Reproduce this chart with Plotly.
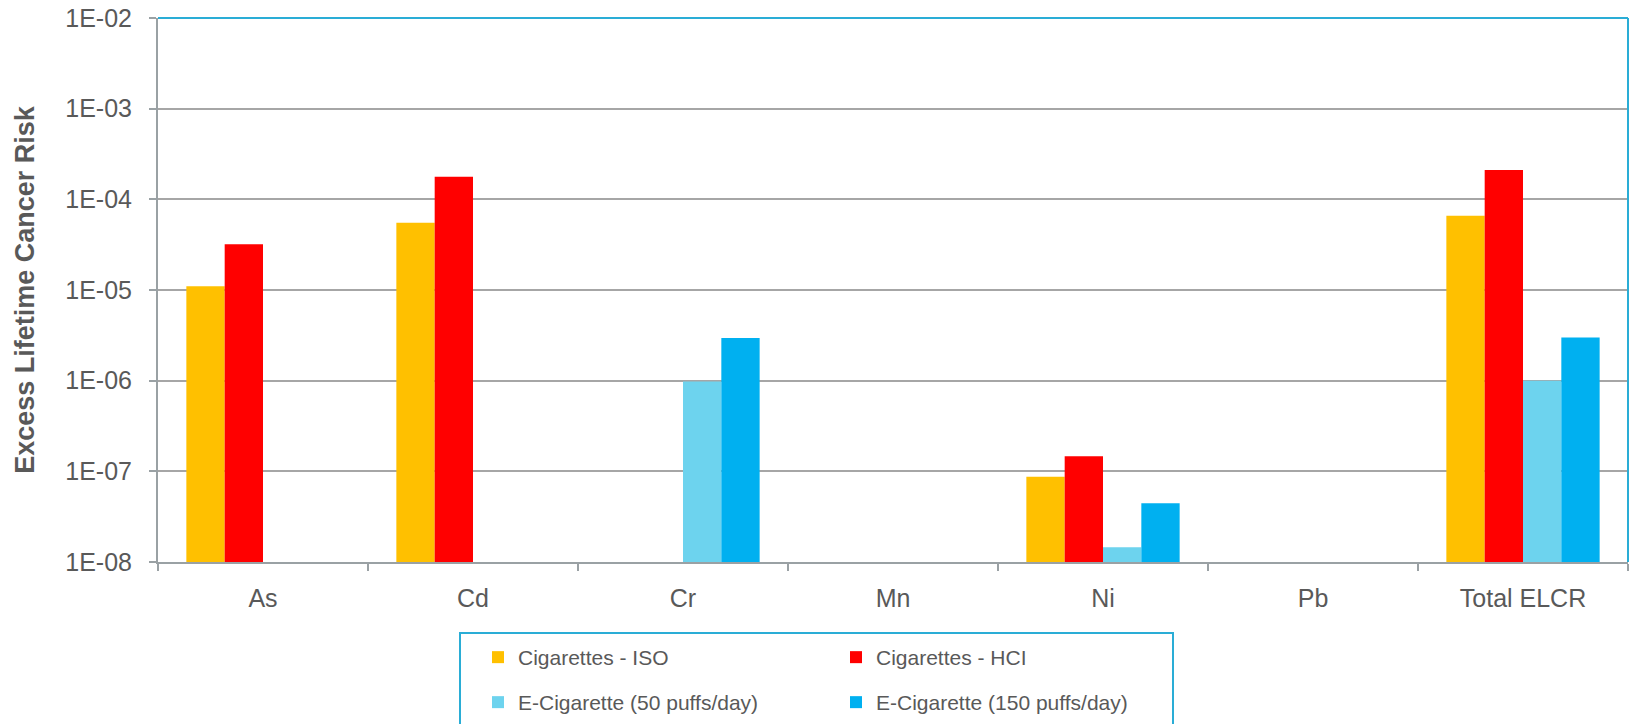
import plotly.graph_objects as go

# Metals and combined total
categories = ["As", "Cd", "Cr", "Mn", "Ni", "Pb", "Total ELCR"]

# Excess lifetime cancer risk per product (None = no bar drawn)
cig_iso = [1.1e-5, 5.5e-5, None, None, 8.7e-8, None, 6.6e-5]
cig_hci = [3.2e-5, 1.77e-4, None, None, 1.47e-7, None, 2.1e-4]
ecig_50 = [None, None, 9.8e-7, None, 1.45e-8, None, 1.0e-6]
ecig_150 = [None, None, 2.95e-6, None, 4.45e-8, None, 3.0e-6]

series_names = ["Cigarettes - ISO", "Cigarettes - HCI",
                "E-Cigarette (50 puffs/day)", "E-Cigarette (150 puffs/day)"]

# Decade ticks on the log axis
tick_values = [1e-8, 1e-7, 1e-6, 1e-5, 1e-4, 1e-3, 1e-2]
tick_labels = ["1E-08", "1E-07", "1E-06", "1E-05", "1E-04", "1E-03", "1E-02"]

FONT = "Arial, Liberation Sans, sans-serif"
TEXT = "#595959"
AXIS = "#9AA1A4"
GRID = "#A6A6A6"
FRAME = "#2AADD6"

colors = ["#FFC000", "#FF0000", "#6DD3EE", "#00B0F0"]
values = [cig_iso, cig_hci, ecig_50, ecig_150]
legend_ids = ["legend", "legend", "legend2", "legend2"]

fig = go.Figure()
for name, vals, col, lg in zip(series_names, values, colors, legend_ids):
    fig.add_trace(go.Bar(
        x=categories, y=vals, name=name,
        marker=dict(color=col, line=dict(width=0)),
        legend=lg,
    ))

legend_common = dict(
    orientation="h",
    xref="container", yref="container",
    xanchor="left", yanchor="top",
    entrywidthmode="pixels", entrywidth=313,
    font=dict(family=FONT, size=21, color=TEXT),
    bgcolor="rgba(0,0,0,0)", borderwidth=0,
    itemclick=False, itemdoubleclick=False,
    traceorder="normal",
)

fig.update_layout(
    width=1631, height=724,
    margin=dict(l=158, r=3, t=18, b=162),
    paper_bgcolor="white", plot_bgcolor="white",
    barmode="group", bargap=0.27, bargroupgap=0,
    font=dict(family=FONT, color=TEXT),
    showlegend=True,
    legend=dict(legend_common, x=478 / 1631, y=1 - 637 / 724),
    legend2=dict(legend_common, x=478 / 1631, y=1 - 682 / 724),
    xaxis=dict(
        type="category",
        tickson="boundaries",
        ticks="outside", ticklen=7, tickwidth=1.5, tickcolor=AXIS,
        ticklabelstandoff=13,
        showline=True, linecolor=AXIS, linewidth=2,
        showgrid=False,
        tickfont=dict(family=FONT, size=25, color=TEXT),
    ),
    yaxis=dict(
        type="log", range=[-8, -2],
        tickvals=tick_values, ticktext=tick_labels,
        ticks="outside", ticklen=7, tickwidth=1.5, tickcolor=AXIS,
        ticklabelstandoff=12,
        showline=True, linecolor=AXIS, linewidth=2,
        showgrid=True, gridcolor=GRID, gridwidth=1.5,
        tickfont=dict(family=FONT, size=25, color=TEXT),
        title=dict(text="<b>Excess Lifetime Cancer Risk</b>",
                   font=dict(family=FONT, size=27, color=TEXT),
                   standoff=23),
        zeroline=False,
    ),
    shapes=[
        # top and right frame of the plotting area
        dict(type="line", xref="paper", yref="paper", x0=0, x1=1, y0=1, y1=1,
             line=dict(color=FRAME, width=2)),
        dict(type="line", xref="paper", yref="paper", x0=1, x1=1, y0=0, y1=1,
             line=dict(color=FRAME, width=2)),
        # frame around the legend
        dict(type="rect", xref="paper", yref="paper",
             x0=(460 - 158) / 1470, x1=(1173 - 158) / 1470,
             y0=(562 - 633) / 544, y1=(562 - 760) / 544,
             line=dict(color=FRAME, width=2), fillcolor="rgba(0,0,0,0)"),
    ],
)

fig.write_html("out.html")
